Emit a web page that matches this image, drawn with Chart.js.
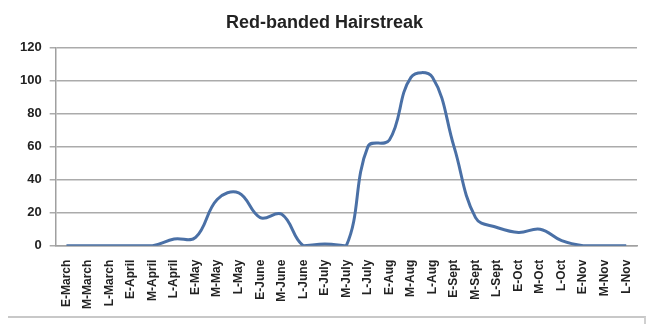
<!DOCTYPE html>
<html>
<head>
<meta charset="utf-8">
<script src="https://cdn.jsdelivr.net/npm/chart.js@4/dist/chart.umd.min.js"></script>
<style>
  html, body { margin: 0; padding: 0; background: #fff; }
  #wrap { position: relative; width: 650px; height: 324px; }
  #frame { position: absolute; left: 8px; top: 316px; width: 636px; height: 20px;
           border-top: 2px solid #c8c8c8; border-right: 2px solid #d0d0d0; }
</style>
</head>
<body>
<div id="wrap">
  <canvas id="lineChart" width="650" height="324"></canvas>
  <div id="frame"></div>
</div>
<script>
// 기간 라벨
var periods = ['E-March','M-March','L-March','E-April','M-April','L-April','E-May','M-May','L-May',
  'E-June','M-June','L-June','E-July','M-July','L-July','E-Aug','M-Aug','L-Aug',
  'E-Sept','M-Sept','L-Sept','E-Oct','M-Oct','L-Oct','E-Nov','M-Nov','L-Nov'];
// 개체 수
var counts = [0, 0, 0, 0, 0, 4, 5, 28, 32, 17, 19, 0, 1, 0, 60, 64, 102, 102, 60, 17, 11, 8, 10, 3, 0, 0, 0];
var yTicks = [0, 20, 40, 60, 80, 100, 120];

var ctx = document.getElementById('lineChart').getContext('2d');
var lineChart = new Chart(ctx, {
  type: 'line',
  data: {
    labels: periods,
    datasets: [{
      label: 'Red-banded Hairstreak',
      data: counts,
      borderColor: '#4a70a6',
      borderWidth: 3,
      pointRadius: 0,
      tension: 0.4,
      fill: false
    }]
  },
  options: {
    responsive: false,
    animation: false,
    layout: {
      padding: { left: 12, right: 13, top: 4, bottom: 9 }
    },
    plugins: {
      legend: { display: false },
      tooltip: { enabled: false },
      title: {
        display: true,
        text: 'Red-banded Hairstreak',
        color: '#222',
        font: { family: 'Liberation Sans', size: 18, weight: 'bold' },
        padding: { top: 8, bottom: 14 }
      }
    },
    scales: {
      x: {
        offset: true,
        grid: { display: false, drawTicks: true },
        border: { color: '#a0a0a0', width: 1.5 },
        ticks: {
          color: '#222',
          autoSkip: false,
          maxRotation: 90,
          minRotation: 90,
          padding: 6,
          font: { family: 'Liberation Sans', size: 12, weight: 'bold' }
        }
      },
      y: {
        min: 0,
        max: 120,
        afterBuildTicks: function (axis) {
          axis.ticks = yTicks.map(function (v) { return { value: v }; });
        },
        grid: { color: '#ababab', lineWidth: 1.5, tickLength: 6 },
        border: { color: '#a0a0a0', width: 1.5 },
        ticks: {
          color: '#222',
          padding: 8,
          font: { family: 'Liberation Sans', size: 13, weight: 'bold' }
        }
      }
    }
  }
});
</script>
</body>
</html>
